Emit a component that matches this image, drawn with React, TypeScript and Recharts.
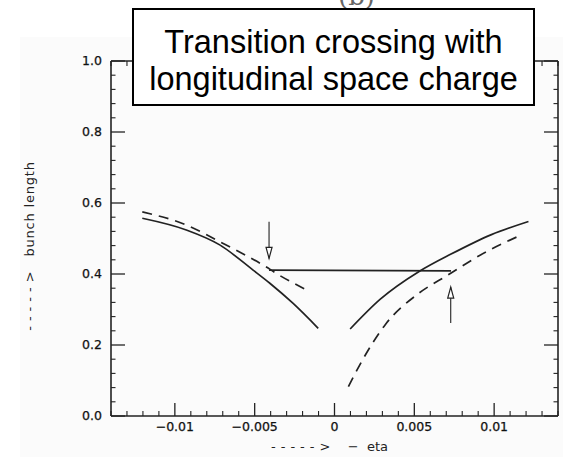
import { Line, LineChart, XAxis, YAxis } from 'recharts';

// bunch length vs -eta
const solidLeft = [
  { x: -0.01204, y: 0.557 },
  { x: -0.00928, y: 0.524 },
  { x: -0.00719, y: 0.482 },
  { x: -0.0051, y: 0.411 },
  { x: -0.00405, y: 0.374 },
  { x: -0.00259, y: 0.317 },
  { x: -0.00102, y: 0.247 }
];
const dashedLeft = [
  { x: -0.01204, y: 0.575 },
  { x: -0.00928, y: 0.538 },
  { x: -0.00719, y: 0.491 },
  { x: -0.00447, y: 0.425 },
  { x: -0.0034, y: 0.395 },
  { x: -0.00165, y: 0.353 }
];
const solidRight = [
  { x: 0.00098, y: 0.245 },
  { x: 0.00287, y: 0.329 },
  { x: 0.0053, y: 0.407 },
  { x: 0.0073, y: 0.456 },
  { x: 0.00983, y: 0.511 },
  { x: 0.01215, y: 0.548 }
];
const dashedRight = [
  { x: 0.00087, y: 0.083 },
  { x: 0.00182, y: 0.163 },
  { x: 0.00319, y: 0.258 },
  { x: 0.0052, y: 0.343 },
  { x: 0.0071, y: 0.397 },
  { x: 0.0096, y: 0.465 },
  { x: 0.0116, y: 0.508 }
];
const plateau = [
  { x: -0.0041, y: 0.411 },
  { x: 0.0073, y: 0.409 }
];
const arrowDown = [
  { x: -0.0041, y: 0.547 },
  { x: -0.0041, y: 0.444, tip: 'down' }
];
const arrowUp = [
  { x: 0.00728, y: 0.262 },
  { x: 0.00728, y: 0.363, tip: 'up' }
];

const xDomain = [-0.014, 0.014];
const xMajorTicks = [-0.01, -0.005, 0, 0.005, 0.01];
const xMajorLabels = ['−0.01', '−0.005', '0', '0.005', '0.01'];
const yMajorTicks = [0, 0.2, 0.4, 0.6, 0.8, 1.0];
const yMajorLabels = ['0.0', '0.2', '0.4', '0.6', '0.8', '1.0'];
const xAllTicks = Array.from({ length: 29 }, (_, i) => (i - 14) / 1000);
const yAllTicks = Array.from({ length: 26 }, (_, i) => (i * 4) / 100);

const INK = '#222';
const FONT = 'DejaVu Sans, sans-serif';

const majorIndex = (v: number, majors: number[]) => majors.findIndex((m) => Math.abs(m - v) < 1e-9);

// one tick renderer per side: inward tick marks, labels only on bottom/left majors
const makeTick = (side: 'bottom' | 'top' | 'left' | 'right') => (props: any) => {
  const { x, y, payload, index } = props;
  const v = payload.value;
  const horiz = side === 'bottom' || side === 'top';
  const mi = majorIndex(v, horiz ? xMajorTicks : yMajorTicks);
  const major = mi >= 0;
  const len = major ? (horiz ? 13 : 14) : horiz ? 5 : 4.5;
  let x2 = x;
  let y2 = y;
  if (side === 'bottom') y2 = y - len;
  if (side === 'top') y2 = y + len;
  if (side === 'left') x2 = x + len;
  if (side === 'right') x2 = x - len;
  const label = { fontSize: 12.5, fill: '#111', stroke: '#111', strokeWidth: 0.25, fontFamily: FONT };
  return (
    <g key={`${side}${index}`}>
      <line x1={x} y1={y} x2={x2} y2={y2} stroke={INK} strokeWidth={major ? 1.3 : 1.1} />
      {major && side === 'bottom' && (
        <text x={x} y={y + 6} dy="0.71em" textAnchor="middle" {...label}>
          {xMajorLabels[mi]}
        </text>
      )}
      {major && side === 'left' && (
        <text x={x - 9} y={y} dy="0.355em" textAnchor="end" {...label}>
          {yMajorLabels[mi]}
        </text>
      )}
    </g>
  );
};

const ArrowDot = (props: any) => {
  const { cx, cy, payload, index } = props;
  if (!payload || !payload.tip) return <g key={`a${index}`} />;
  const d = payload.tip === 'down' ? -1 : 1;
  const len = 11;
  const half = 3;
  const pts = `${cx},${cy} ${cx - half},${cy + d * len} ${cx + half},${cy + d * len}`;
  return <polygon key={`a${index}`} points={pts} fill="#fff" stroke={INK} strokeWidth={1.2} />;
};

const curve = (data: any[], dashed: boolean, key: string) => (
  <Line
    key={key}
    data={data}
    dataKey="y"
    xAxisId="x"
    yAxisId="y"
    type="monotone"
    stroke={INK}
    strokeWidth={1.7}
    strokeDasharray={dashed ? '10 7' : undefined}
    dot={false}
    activeDot={false}
    isAnimationActive={false}
  />
);

const axisLine = { stroke: INK, strokeWidth: 1.6 };

export default function App() {
  return (
    <div style={{ position: 'absolute', left: 0, top: 0, width: 563, height: 457, background: '#fff' }}>
      <div style={{ position: 'absolute', left: 20, top: 37, width: 543, height: 420, background: '#fbfbfb' }} />
      <div style={{ position: 'absolute', left: 0, top: 0, fontFamily: 'DejaVu Serif, serif', fontSize: 26, color: '#666', width: 563 }}>
        <span style={{ position: 'absolute', left: 338, top: -19 }}>(b)</span>
      </div>
      <div style={{ position: 'absolute', left: 0, top: 0 }}>
        <LineChart width={563} height={457} margin={{ top: 0, right: 0, bottom: 0, left: 0 }}>
          <XAxis xAxisId="x" dataKey="x" type="number" domain={xDomain} allowDataOverflow height={41}
            ticks={xAllTicks} interval={0} tickSize={0} tickMargin={0} tickLine={false}
            tick={makeTick('bottom')} axisLine={axisLine} />
          <XAxis xAxisId="xt" orientation="top" dataKey="x" type="number" domain={xDomain} allowDataOverflow height={61}
            ticks={xAllTicks} interval={0} tickSize={0} tickMargin={0} tickLine={false}
            tick={makeTick('top')} axisLine={axisLine} />
          <YAxis yAxisId="y" type="number" domain={[0, 1]} allowDataOverflow width={111}
            ticks={yAllTicks} interval={0} tickSize={0} tickMargin={0} tickLine={false}
            tick={makeTick('left')} axisLine={axisLine} />
          <YAxis yAxisId="yr" orientation="right" type="number" domain={[0, 1]} allowDataOverflow width={5}
            ticks={yAllTicks} interval={0} tickSize={0} tickMargin={0} tickLine={false}
            tick={makeTick('right')} axisLine={axisLine} />
          {curve(solidLeft, false, 'sl')}
          {curve(dashedLeft, true, 'dl')}
          {curve(solidRight, false, 'sr')}
          {curve(dashedRight, true, 'dr')}
          <Line data={plateau} dataKey="y" xAxisId="x" yAxisId="y" type="linear" stroke={INK}
            strokeWidth={1.7} dot={false} activeDot={false} isAnimationActive={false} />
          <Line data={arrowDown} dataKey="y" xAxisId="x" yAxisId="y" type="linear" stroke={INK}
            strokeWidth={1.1} dot={ArrowDot} activeDot={false} isAnimationActive={false} />
          <Line data={arrowUp} dataKey="y" xAxisId="x" yAxisId="y" type="linear" stroke={INK}
            strokeWidth={1.1} dot={ArrowDot} activeDot={false} isAnimationActive={false} />
        </LineChart>
      </div>
      <div style={{ position: 'absolute', left: 271, top: 439, fontFamily: FONT, fontSize: 13, color: INK, whiteSpace: 'pre' }}>
        <span style={{ letterSpacing: 5 }}>{'----->'}</span>
        <span>{'   −  eta'}</span>
      </div>
      <div style={{ position: 'absolute', left: 29, top: 246, width: 0, height: 0 }}>
        <div style={{ position: 'absolute', transform: 'translate(-50%, -50%) rotate(-90deg)',
          fontFamily: FONT, fontSize: 13, color: INK, whiteSpace: 'pre' }}>
          <span style={{ letterSpacing: 5 }}>{'----->'}</span>
          <span style={{ letterSpacing: 0.8 }}>{'  bunch length'}</span>
        </div>
      </div>
      <div style={{ position: 'absolute', left: 132, top: 8, width: 403, height: 98, boxSizing: 'border-box',
        border: '2px solid #000', background: '#fff', paddingTop: 14, textAlign: 'center',
        fontFamily: 'Liberation Sans, Arial, sans-serif', fontSize: 32.5, lineHeight: '37px', color: '#000' }}>
        Transition crossing with<br />longitudinal space charge
      </div>
    </div>
  );
}
